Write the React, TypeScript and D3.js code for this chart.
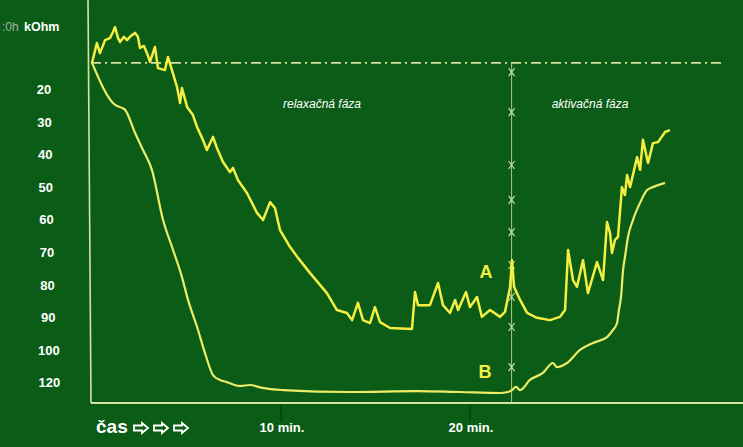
import React, { useMemo } from 'react'
import * as d3 from 'd3'

// osi
const yTicks = [20, 30, 40, 50, 60, 70, 80, 90, 100, 120]
const xTicks = [10, 20]

// krivka A (min, kOhm)
const timeA = [0, 0.26, 0.42, 0.69, 0.95, 1.11, 1.22, 1.38, 1.48, 1.69, 1.85, 2.06, 2.28, 2.43, 2.54, 2.75, 2.91, 3.07, 3.33, 3.49, 3.86, 4.02, 4.23, 4.5, 4.66, 4.76, 5.03, 5.34, 5.56, 5.87, 6.08, 6.4, 6.61, 6.93, 7.3, 7.46, 7.72, 8.2, 8.73, 9.05, 9.42, 9.68, 9.95, 10.48, 10.9, 11.53, 12.43, 12.96, 13.49, 13.76, 14.07, 14.34, 14.71, 14.97, 15.24, 15.77, 16.93, 17.09, 17.25, 17.88, 18.31, 18.57, 18.94, 19.21, 19.37, 19.79, 20.0, 20.37, 20.63, 21.06, 21.59, 21.85, 22.12, 22.22, 22.33, 22.65, 23.02, 23.54, 24.23, 24.76, 25.03, 25.19, 25.45, 25.66, 25.98, 26.24, 26.72, 27.04, 27.25, 27.41, 27.51, 27.67, 27.83, 28.04, 28.2, 28.31, 28.47, 28.84, 29.0, 29.15, 29.42, 29.68, 29.95, 30.32, 30.58]
const kOhmA = [12.0, 5.9, 9.0, 5.0, 4.4, 2.5, 1.0, 4.4, 5.6, 4.0, 5.0, 3.7, 2.8, 4.0, 7.4, 6.8, 9.0, 11.7, 7.1, 13.6, 14.2, 10.2, 14.2, 19.4, 24.3, 19.7, 25.5, 28.0, 31.7, 35.6, 38.7, 34.7, 38.1, 42.4, 45.5, 44.2, 47.9, 51.9, 58.0, 60.2, 54.7, 56.5, 63.3, 68.5, 71.8, 76.4, 82.6, 87.8, 88.7, 90.9, 85.6, 90.9, 91.8, 86.9, 91.5, 93.3, 93.6, 82.3, 86.3, 86.3, 79.5, 86.3, 88.7, 84.7, 87.8, 82.3, 86.9, 83.8, 89.9, 87.8, 89.9, 88.4, 80.7, 72.5, 80.7, 84.7, 88.7, 90.2, 90.9, 89.9, 87.8, 69.4, 78.6, 80.7, 72.5, 82.6, 73.1, 78.6, 60.8, 64.2, 70.3, 66.3, 65.4, 50.1, 52.5, 46.4, 50.1, 40.9, 44.8, 35.6, 42.7, 36.6, 36.3, 33.2, 32.6]

// krivka B (min, kOhm)
const timeB = [0, 1.22, 1.59, 1.75, 2.28, 2.7, 3.17, 3.76, 4.29, 4.76, 5.08, 5.56, 5.98, 6.4, 6.77, 7.14, 7.83, 8.36, 9.0, 10.11, 13.65, 17.2, 19.47, 21.59, 22.0, 22.22, 22.43, 22.65, 23.17, 23.86, 24.39, 24.6, 25.13, 25.82, 26.51, 27.25, 27.57, 27.78, 27.88, 27.99, 28.1, 28.2, 28.36, 28.62, 28.99, 29.37, 29.68, 30.32]
const kOhmB = [12.0, 24.9, 25.8, 26.4, 33.5, 38.7, 44.8, 60.2, 69.4, 77.7, 84.7, 93.0, 102.0, 115.5, 118.5, 119.8, 122.2, 121.6, 123.4, 124.7, 125.9, 125.3, 125.9, 126.5, 125.9, 124.7, 122.8, 124.7, 118.5, 114.2, 108.1, 110.6, 108.1, 100.1, 97.9, 96.1, 93.9, 91.8, 87.8, 83.8, 75.5, 71.5, 65.4, 60.2, 55.0, 51.0, 50.1, 48.8]

const baselineKOhm = 12
const eventTime = 22.2
const markerKOhm = [14.8, 27.1, 43.3, 54.0, 63.9, 74.0, 83.8, 93.0, 110.6]
const phaseLabels = ['relaxačná fáza', 'aktivačná fáza']
const phaseTimes = [12.17, 26.35]

const W = 743
const H = 447
const BG = '#0b5c16'
const AXIS = '#d9e2a2'
const sans = '"Liberation Sans", Arial, sans-serif'
const ARROW = 'M0,-2.5 L8,-2.5 L8,-5 L14,0 L8,5 L8,2.5 L0,2.5 Z'

export default function App() {
  const { x, y, lineA, lineB } = useMemo(() => {
    const x = d3.scaleLinear().domain([0, 30]).range([92, 92 + 30 * 18.9])
    const y = d3.scaleLinear()
      .domain(yTicks)
      .range(yTicks.map((_, i) => 89 + i * 32.6))
    const lineA = d3.line<number>()
      .x((_, i) => x(timeA[i]))
      .y(d => y(d))
    const lineB = d3.line<number>()
      .x((_, i) => x(timeB[i]))
      .y(d => y(d))
      .curve(d3.curveMonotoneX)
    return { x, y, lineA, lineB }
  }, [])

  const axisY = 403
  const ex = x(eventTime)
  const yb = y(baselineKOhm)

  return (
    <svg width={W} height={H} style={{ position: 'fixed', left: 0, top: 0, display: 'block' }}>
      <rect width={W} height={H} fill={BG} />

      {/* os y a os x */}
      <line x1={88} y1={0} x2={91} y2={axisY} stroke={AXIS} strokeWidth={1.6} />
      <line x1={91} y1={axisY} x2={W} y2={axisY} stroke={AXIS} strokeWidth={1.8} />

      {/* prerušovaná základná čiara */}
      <line x1={91} y1={yb} x2={725} y2={yb} stroke={AXIS} strokeWidth={1.6} strokeDasharray="10,4,2,4" />

      {/* vertikálna čiara udalosti */}
      <line x1={ex} y1={yb} x2={ex} y2={axisY} stroke={AXIS} strokeWidth={1} opacity={0.8} />
      {markerKOhm.map((v, i) => (
        <g key={i} transform={`translate(${ex},${y(v)})`} stroke={AXIS} strokeWidth={1.1}>
          <line x1={-3} y1={-4} x2={3} y2={4} />
          <line x1={3} y1={-4} x2={-3} y2={4} />
        </g>
      ))}

      {/* popisy osi y */}
      <text x={2} y={31} fill="#a8b4a8" fontFamily={sans} fontSize={12}>:0h</text>
      <text x={24} y={31} fill="#fff" fontFamily={sans} fontSize={12.5} fontWeight="bold">kOhm</text>
      {yTicks.map((t, i) => (
        <text key={t} x={44 + i * 0.6} y={y(t) + 5} fill="#fff" fontFamily={sans}
          fontSize={13} fontWeight="bold" textAnchor="middle">{t}</text>
      ))}

      {/* ticky osi x */}
      {xTicks.map(t => (
        <g key={t}>
          <line x1={x(t)} y1={axisY + 2} x2={x(t)} y2={axisY + 19} stroke="#083a0c" strokeWidth={1.2} />
          <text x={x(t) + 1} y={432} fill="#fff" fontFamily={sans} fontSize={13}
            fontWeight="bold" textAnchor="middle">{t} min.</text>
        </g>
      ))}
      <text x={96} y={433} fill="#fff" fontFamily={sans} fontSize={19} fontWeight="bold">čas</text>
      {[0, 1, 2].map(i => (
        <path key={i} d={ARROW} transform={`translate(${134 + i * 20},428)`}
          fill="none" stroke="#fff" strokeWidth={1.8} strokeLinejoin="miter" />
      ))}

      {/* fázy */}
      {phaseLabels.map((p, i) => (
        <text key={p} x={x(phaseTimes[i])} y={108} fill="#fff" fontFamily={sans}
          fontSize={12} fontStyle="italic" textAnchor="middle">{p}</text>
      ))}

      {/* krivky */}
      <path d={lineB(kOhmB) ?? ''} fill="none" stroke="#ecec68" strokeWidth={2.2} strokeLinejoin="round" />
      <path d={lineA(kOhmA) ?? ''} fill="none" stroke="#f4ef42" strokeWidth={2.5} strokeLinejoin="round" />

      <text x={486} y={278} fill="#f4ef42" fontFamily={sans} fontSize={18} fontWeight="bold" textAnchor="middle">A</text>
      <text x={485} y={378} fill="#f4ef42" fontFamily={sans} fontSize={18} fontWeight="bold" textAnchor="middle">B</text>
    </svg>
  )
}
